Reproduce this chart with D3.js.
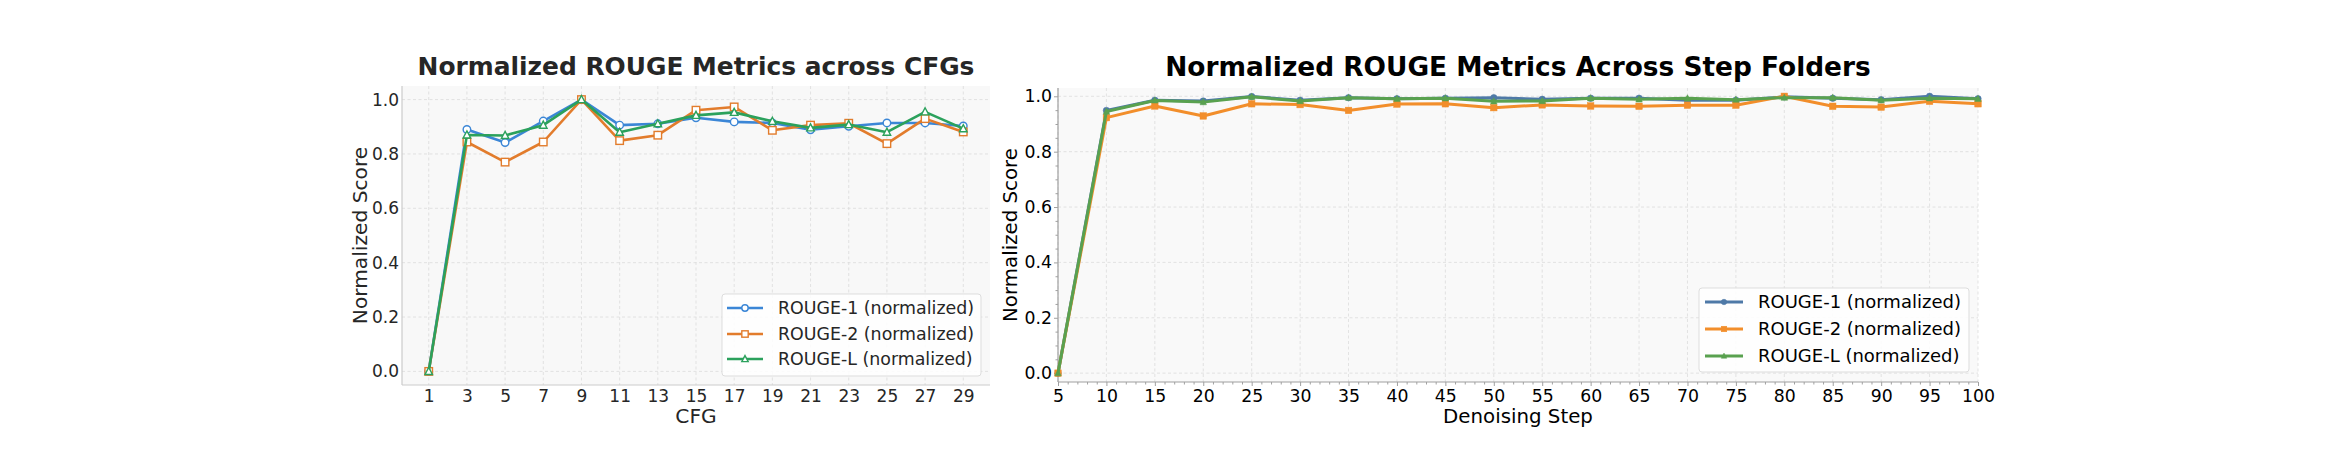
<!DOCTYPE html>
<html lang="en">
<head>
<meta charset="utf-8">
<script src="https://d3js.org/d3.v7.min.js"></script>
<style>
  body { margin: 0; background: #fff; }
  svg { display: block; font-family: "DejaVu Sans", sans-serif; }
</style>
</head>
<body>
<div id="chart"></div>
<script>
// ---- data: CFG sweep (left panel)
var cfgValues = [1, 3, 5, 7, 9, 11, 13, 15, 17, 19, 21, 23, 25, 27, 29];
var cfgRouge1 = [0, 0.890, 0.842, 0.921, 1.0, 0.906, 0.911, 0.933, 0.918, 0.914, 0.889, 0.902, 0.914, 0.914, 0.903];
var cfgRouge2 = [0, 0.844, 0.770, 0.844, 1.0, 0.849, 0.869, 0.961, 0.973, 0.887, 0.906, 0.913, 0.838, 0.930, 0.881];
var cfgRougeL = [0, 0.870, 0.868, 0.906, 1.0, 0.880, 0.911, 0.942, 0.953, 0.920, 0.896, 0.908, 0.880, 0.955, 0.893];

// ---- data: denoising steps (right panel)
var stepValues = [5, 10, 15, 20, 25, 30, 35, 40, 45, 50, 55, 60, 65, 70, 75, 80, 85, 90, 95, 100];
var stepRouge1 = [0, 0.949, 0.986, 0.983, 0.999, 0.986, 0.995, 0.991, 0.993, 0.995, 0.989, 0.993, 0.993, 0.986, 0.986, 0.998, 0.993, 0.988, 1.0, 0.991];
var stepRouge2 = [0, 0.923, 0.965, 0.929, 0.973, 0.970, 0.949, 0.972, 0.973, 0.959, 0.969, 0.965, 0.964, 0.968, 0.968, 1.0, 0.964, 0.961, 0.982, 0.973];
var stepRougeL = [0, 0.945, 0.985, 0.979, 0.998, 0.983, 0.995, 0.991, 0.993, 0.982, 0.983, 0.993, 0.989, 0.993, 0.988, 0.995, 0.995, 0.986, 0.993, 0.991];

var seriesNames = ["ROUGE-1 (normalized)", "ROUGE-2 (normalized)", "ROUGE-L (normalized)"];
var yTicks = [0, 0.2, 0.4, 0.6, 0.8, 1.0];
var stepTicks = [5, 10, 15, 20, 25, 30, 35, 40, 45, 50, 55, 60, 65, 70, 75, 80, 85, 90, 95, 100];

var width = 2346, height = 452;
var svg = d3.select("#chart").append("svg")
    .attr("width", width)
    .attr("height", height);

// draws a marker of a given shape centred at 0,0
function marker(g, shape, size, fill, stroke, sw) {
    if (shape === "circle") {
        g.append("circle").attr("r", size / 2).attr("fill", fill).attr("stroke", stroke).attr("stroke-width", sw);
    } else if (shape === "square") {
        g.append("rect").attr("x", -size / 2).attr("y", -size / 2).attr("width", size).attr("height", size)
            .attr("fill", fill).attr("stroke", stroke).attr("stroke-width", sw);
    } else {
        var h = size * 0.9;
        g.append("path").attr("d", "M0," + (-h * 0.6) + "L" + (size / 2) + "," + (h * 0.45) + "L" + (-size / 2) + "," + (h * 0.45) + "Z")
            .attr("fill", fill).attr("stroke", stroke).attr("stroke-width", sw);
    }
}

function panel(opt) {
    var x = d3.scaleLinear().domain(opt.xDomain).range([opt.left, opt.right]);
    var y = d3.scaleLinear().domain(opt.yDomain).range([opt.bottom, opt.top]);
    var g = svg.append("g");

    g.append("rect")
        .attr("x", opt.left).attr("y", opt.top)
        .attr("width", opt.right - opt.left).attr("height", opt.bottom - opt.top)
        .attr("fill", opt.bg);

    // grid
    g.append("g").selectAll("line").data(opt.xTicks).enter().append("line")
        .attr("x1", d => x(d)).attr("x2", d => x(d))
        .attr("y1", opt.top).attr("y2", opt.bottom)
        .attr("stroke", "#dcdcdc").attr("stroke-width", 0.8).attr("stroke-dasharray", "3,2.5");
    g.append("g").selectAll("line").data(yTicks).enter().append("line")
        .attr("x1", opt.left).attr("x2", opt.right)
        .attr("y1", d => y(d)).attr("y2", d => y(d))
        .attr("stroke", "#dcdcdc").attr("stroke-width", 0.8).attr("stroke-dasharray", "3,2.5");

    // axes
    var xAxis = d3.axisBottom(x).tickValues(opt.xTicks).tickFormat(d3.format("d"))
        .tickSize(opt.tickLen).tickPadding(opt.xPad);
    var yAxis = d3.axisLeft(y).tickValues(yTicks).tickFormat(d3.format(".1f"))
        .tickSize(opt.tickLen).tickPadding(opt.yPad);

    if (opt.minor) {
        var mx = d3.range(opt.xDomain[0], opt.xDomain[1] + 0.5, 1).filter(d => d % 5 !== 0);
        g.append("g").attr("transform", "translate(0," + opt.bottom + ")")
            .call(d3.axisBottom(x).tickValues(mx).tickSize(2.5).tickFormat(""))
            .call(a => a.select(".domain").remove())
            .selectAll("line").attr("stroke", opt.spine);
        var my = d3.range(0, 21).map(i => i * 0.05).filter(d => Math.round(d * 100) % 20 !== 0);
        g.append("g").attr("transform", "translate(" + opt.left + ",0)")
            .call(d3.axisLeft(y).tickValues(my).tickSize(2.5).tickFormat(""))
            .call(a => a.select(".domain").remove())
            .selectAll("line").attr("stroke", opt.spine);
    }

    var gx = g.append("g").attr("transform", "translate(0," + opt.bottom + ")").call(xAxis);
    var gy = g.append("g").attr("transform", "translate(" + opt.left + ",0)").call(yAxis);
    [gx, gy].forEach(function(a) {
        a.select(".domain").attr("stroke", opt.spine).attr("stroke-width", 1.2);
        a.selectAll(".tick line").attr("stroke", opt.spine);
        a.selectAll("text").attr("font-size", opt.tickFont).attr("fill", opt.textColor)
            .attr("font-family", "DejaVu Sans");
    });
    gx.select(".domain").attr("d", "M" + opt.left + ",0H" + opt.right);
    gy.select(".domain").attr("d", "M0," + opt.bottom + "V" + opt.top);

    // lines + markers
    opt.series.forEach(function(s, i) {
        var pts = opt.xs.map((v, k) => [v, s[k]]);
        var line = d3.line().x(d => x(d[0])).y(d => y(d[1]));
        g.append("path").datum(pts)
            .attr("d", line)
            .attr("fill", "none")
            .attr("stroke", opt.colors[i])
            .attr("stroke-width", opt.lineWidth)
            .attr("stroke-linejoin", "round");
        pts.forEach(function(p) {
            var m = g.append("g").attr("transform", "translate(" + x(p[0]) + "," + y(p[1]) + ")");
            marker(m, opt.shapes[i], opt.markerSize, opt.markerFill || opt.colors[i], opt.colors[i], opt.markerStroke);
        });
    });

    // titles
    var cx = (opt.left + opt.right) / 2;
    g.append("text").attr("x", cx).attr("y", opt.titleY)
        .attr("text-anchor", "middle").attr("font-weight", "bold")
        .attr("font-size", opt.titleFont).attr("fill", opt.textColor)
        .text(opt.title);
    g.append("text").attr("x", cx).attr("y", 423)
        .attr("text-anchor", "middle").attr("font-size", opt.labelFont).attr("fill", opt.textColor)
        .text(opt.xLabel);
    g.append("text")
        .attr("transform", "translate(" + opt.yLabelX + "," + ((opt.top + opt.bottom) / 2) + ") rotate(-90)")
        .attr("text-anchor", "middle").attr("font-size", opt.labelFont).attr("fill", opt.textColor)
        .text("Normalized Score");

    // legend
    var L = opt.legend;
    g.append("rect").attr("x", L.x0).attr("y", L.y0)
        .attr("width", L.x1 - L.x0).attr("height", L.y1 - L.y0)
        .attr("rx", 3).attr("fill", "#ffffff").attr("fill-opacity", 0.85)
        .attr("stroke", "#dddddd").attr("stroke-width", 1);
    seriesNames.forEach(function(name, i) {
        var ry = L.rows[i];
        g.append("line").attr("x1", L.lx0).attr("x2", L.lx1).attr("y1", ry).attr("y2", ry)
            .attr("stroke", opt.colors[i]).attr("stroke-width", opt.lineWidth);
        var m = g.append("g").attr("transform", "translate(" + ((L.lx0 + L.lx1) / 2) + "," + ry + ")");
        marker(m, opt.shapes[i], opt.markerSize * 0.85, opt.markerFill || opt.colors[i], opt.colors[i], opt.markerStroke);
        g.append("text").attr("x", L.tx).attr("y", ry).attr("dy", "0.36em")
            .attr("font-size", L.font).attr("fill", opt.textColor)
            .text(name);
    });
}

panel({
    left: 402, right: 990, top: 86, bottom: 385,
    xDomain: [-0.4, 30.4], yDomain: [-0.05, 1.05],
    xTicks: cfgValues, xs: cfgValues,
    series: [cfgRouge1, cfgRouge2, cfgRougeL],
    colors: ["#3b86d6", "#e27c2c", "#2ba15c"],
    shapes: ["circle", "square", "triangle"],
    markerFill: "#ffffff", markerSize: 7.5, markerStroke: 1.4, lineWidth: 2.6,
    bg: "#f8f8f8", spine: "#cccccc", textColor: "#262626",
    tickLen: 0, xPad: 5, yPad: 3, tickFont: 17, labelFont: 20.2,
    title: "Normalized ROUGE Metrics across CFGs", titleY: 75, titleFont: 24.9,
    xLabel: "CFG", yLabelX: 367, minor: false,
    legend: { x0: 722, x1: 981, y0: 294, y1: 376, rows: [308, 334, 359],
              lx0: 727, lx1: 763, tx: 778, font: 17.4 }
});

panel({
    left: 1058, right: 1978, top: 88, bottom: 382,
    xDomain: [5, 100], yDomain: [-0.032, 1.03],
    xTicks: stepTicks, xs: stepValues,
    series: [stepRouge1, stepRouge2, stepRougeL],
    colors: ["#4e79a7", "#f28e2b", "#59a14f"],
    shapes: ["circle", "square", "triangle"],
    markerSize: 6.5, markerStroke: 0.5, lineWidth: 3,
    bg: "#f9f9f9", spine: "#a0a0a0", textColor: "#000000",
    tickLen: 4, xPad: 4, yPad: 2, tickFont: 17.3, labelFont: 19.8,
    title: "Normalized ROUGE Metrics Across Step Folders", titleY: 76, titleFont: 26.4,
    xLabel: "Denoising Step", yLabelX: 1017, minor: true,
    legend: { x0: 1699, x1: 1969, y0: 288, y1: 372, rows: [302, 329, 356],
              lx0: 1705, lx1: 1743, tx: 1758, font: 18 }
});
</script>
</body>
</html>
